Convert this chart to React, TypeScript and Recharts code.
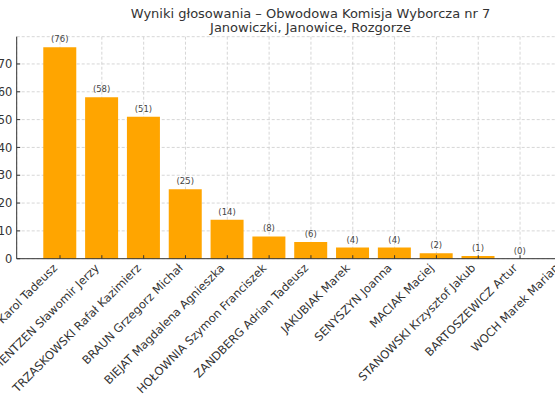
import React from "react";
import { BarChart, Bar, XAxis, YAxis, CartesianGrid, LabelList } from "recharts";

const candidates = [
  "NAWROCKI Karol Tadeusz",
  "MENTZEN Sławomir Jerzy",
  "TRZASKOWSKI Rafał Kazimierz",
  "BRAUN Grzegorz Michał",
  "BIEJAT Magdalena Agnieszka",
  "HOŁOWNIA Szymon Franciszek",
  "ZANDBERG Adrian Tadeusz",
  "JAKUBIAK Marek",
  "SENYSZYN Joanna",
  "MACIAK Maciej",
  "STANOWSKI Krzysztof Jakub",
  "BARTOSZEWICZ Artur",
  "WOCH Marek Marian",
];
const votes = [76, 58, 51, 25, 14, 8, 6, 4, 4, 2, 1, 0, 0];
const yTicks = [0, 10, 20, 30, 40, 50, 60, 70];
const titleLines = [
  "Wyniki głosowania – Obwodowa Komisja Wyborcza nr 7",
  "Janowiczki, Janowice, Rozgorze",
];

const data = candidates.map((name, i) => ({ name, votes: votes[i] }));

const FONT = "'DejaVu Sans', sans-serif";
const TEXT = "#333333";

const YTick = (props: any) => {
  const { x, y, payload } = props;
  return (
    <g>
      <line x1={x + 4.4} x2={x + 7.9} y1={y} y2={y} stroke={TEXT} strokeWidth={1} />
      <text x={x} y={y} dy={4.1} textAnchor="end" fontSize={11.5} fill={TEXT} fontFamily={FONT}>
        {payload.value}
      </text>
    </g>
  );
};

const XTick = (props: any) => {
  const { x, y, payload } = props;
  const tx = x - 2;
  const ty = y + 10;
  return (
    <g>
      <line x1={x} x2={x} y1={y} y2={y - 3.5} stroke={TEXT} strokeWidth={1} />
      <text
        x={tx}
        y={ty}
        textAnchor="end"
        fontSize={11.5}
        fill={TEXT}
        fontFamily={FONT}
        transform={`rotate(-45, ${tx}, ${ty})`}
      >
        {payload.value}
      </text>
    </g>
  );
};

const ValueLabel = (props: any) => {
  const { x, y, width, value } = props;
  if (x == null || y == null) return null;
  return (
    <text
      x={Number(x) + Number(width) / 2}
      y={Number(y) - 5}
      textAnchor="middle"
      fontSize={8.5}
      fill="#444444"
      fontFamily={FONT}
    >
      {`(${value})`}
    </text>
  );
};

export default function App() {
  return (
    <div
      style={{
        position: "absolute",
        left: 0,
        top: 0,
        width: 555,
        height: 400,
        overflow: "hidden",
        background: "#fff",
        fontFamily: FONT,
      }}
    >
      <div style={{ position: "absolute", left: 0, top: 0 }}>
        <BarChart
          width={615.6}
          height={400}
          data={data}
          margin={{ top: 36.7, right: 10.4, left: 0, bottom: 0 }}
          barCategoryGap="10%"
        >
          <XAxis
            dataKey="name"
            interval={0}
            height={141.3}
            padding={{ left: 22.4, right: 22.4 }}
            tickSize={0}
            tickMargin={0}
            tickLine={false}
            axisLine={{ stroke: TEXT, strokeWidth: 1 }}
            tick={<XTick />}
          />
          <YAxis
            type="number"
            domain={[0, 79.8]}
            ticks={yTicks}
            width={16.7}
            tickSize={0}
            tickMargin={4.4}
            tickLine={false}
            axisLine={{ stroke: TEXT, strokeWidth: 1 }}
            tick={<YTick />}
          />
          <Bar dataKey="votes" fill="#FFA500" minPointSize={0.01} isAnimationActive={false}>
            <LabelList dataKey="votes" content={<ValueLabel />} />
          </Bar>
          <CartesianGrid stroke="#cccccc" strokeDasharray="3 2" strokeWidth={0.8} />
        </BarChart>
      </div>
      <svg
        width={555}
        height={45}
        style={{ position: "absolute", left: 0, top: 0 }}
      >
        <text x={310.5} y={17.8} textAnchor="middle" fontSize={13} fill={TEXT} fontFamily={FONT}>
          {titleLines[0]}
        </text>
        <text x={310.5} y={32.2} textAnchor="middle" fontSize={13} fill={TEXT} fontFamily={FONT}>
          {titleLines[1]}
        </text>
      </svg>
    </div>
  );
}
